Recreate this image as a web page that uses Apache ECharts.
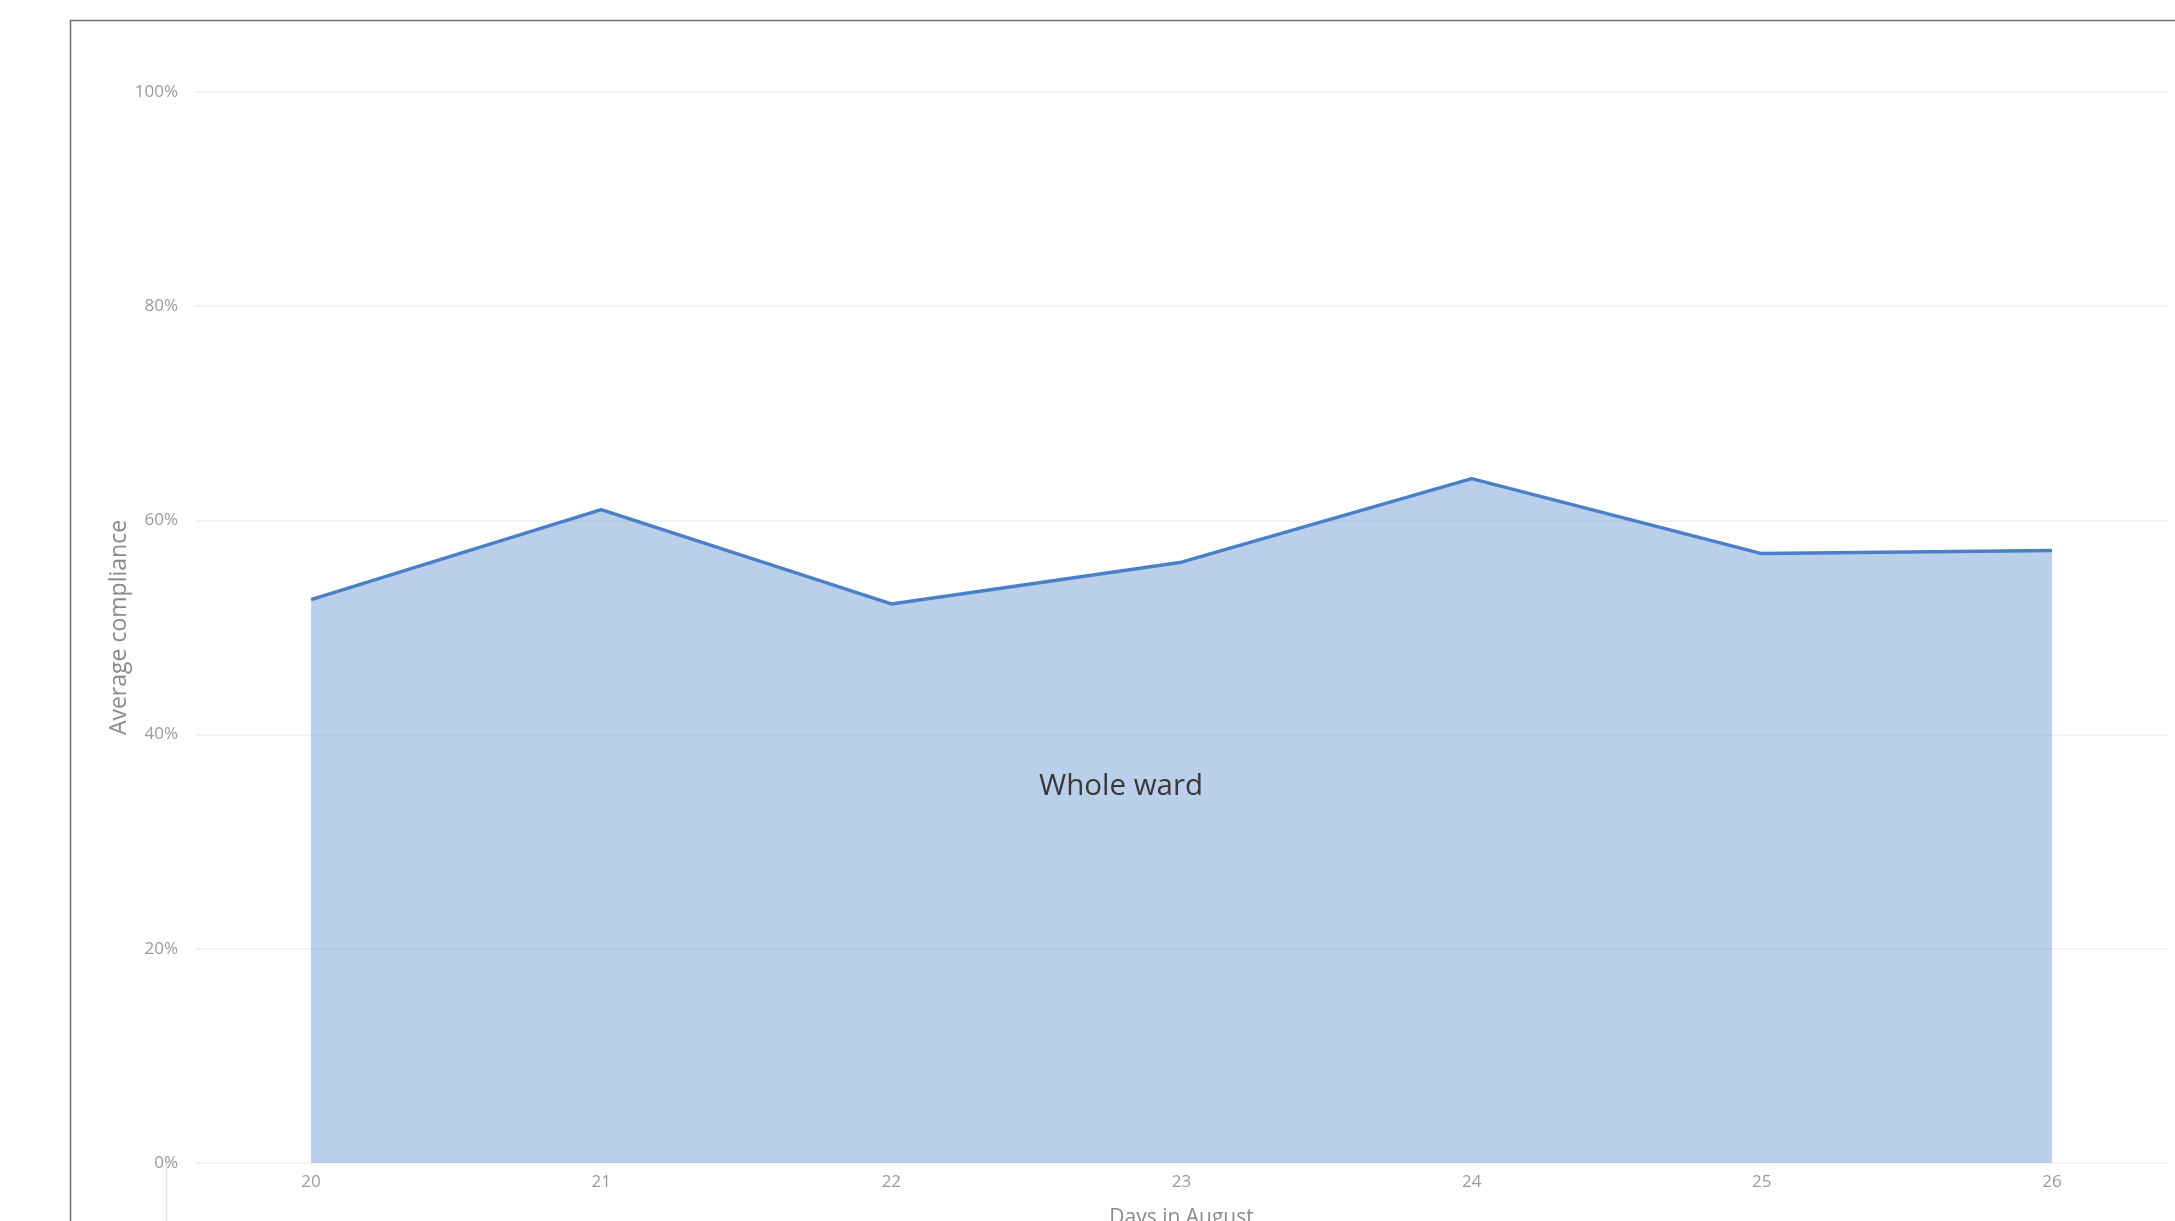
<!DOCTYPE html>
<html>
<head>
<meta charset="utf-8">
<title>Average compliance – Whole ward</title>
<script src="https://cdn.jsdelivr.net/npm/echarts@6/dist/echarts.min.js"></script>
<style>
  html, body { margin: 0; padding: 0; background: #ffffff; overflow: hidden; }
  #chart { width: 2175px; height: 1221px; }
</style>
</head>
<body>
<div id="chart"></div>
<script>
// Days of August shown on the x axis
const days = [20, 21, 22, 23, 24, 25, 26];
// Average compliance for the whole ward, in percent
const wardCompliance = [52.6, 61.0, 52.2, 56.1, 63.9, 56.9, 57.2];
// Y axis tick values, in percent
const yTicks = [0, 20, 40, 60, 80, 100];
const seriesName = 'Whole ward';

const FONT = '"Segoe UI", "Open Sans", "Noto Sans", sans-serif';
const LINE_BLUE = '#4a80c8';

const chart = echarts.init(document.getElementById('chart'), null, { renderer: 'canvas' });

const option = {
  backgroundColor: '#ffffff',
  animation: false,
  grid: {
    left: 195, right: 7, top: 92, bottom: 58,
    containLabel: false,
    outerBoundsMode: 'none'
  },
  xAxis: {
    type: 'value',
    min: 19.6,
    max: 26.4,
    name: 'Days in August',
    nameLocation: 'middle',
    nameGap: 45,
    nameTextStyle: { color: '#8a8a8a', fontSize: 21, fontFamily: FONT },
    axisLine: { show: false },
    axisTick: { show: false },
    splitLine: { show: false },
    axisLabel: {
      customValues: days,
      color: '#9a9a9a',
      fontSize: 17,
      fontFamily: FONT,
      margin: 11,
      formatter: v => String(v)
    }
  },
  yAxis: {
    type: 'value',
    min: yTicks[0],
    max: yTicks[yTicks.length - 1],
    interval: yTicks[1] - yTicks[0],
    name: 'Average compliance',
    nameLocation: 'middle',
    nameGap: 64,
    nameMoveOverlap: false,
    nameTextStyle: { color: '#8a8a8a', fontSize: 23, fontFamily: FONT },
    axisLine: { show: false },
    axisTick: { show: false },
    splitLine: { lineStyle: { color: '#efefef', width: 1.5 } },
    axisLabel: {
      color: '#9a9a9a',
      fontSize: 17,
      fontFamily: FONT,
      margin: 17,
      formatter: '{value}%'
    }
  },
  series: [{
    name: seriesName,
    type: 'line',
    data: days.map((d, i) => [d, wardCompliance[i]]),
    showSymbol: false,
    symbol: 'none',
    lineStyle: { color: LINE_BLUE, width: 3.5 },
    areaStyle: { color: LINE_BLUE, opacity: 0.38, origin: 'start' },
    z: 3
  }],
  graphic: [
    // report frame (left and top edges)
    {
      type: 'polyline',
      shape: { points: [[70.5, 1221], [70.5, 20.5], [2175, 20.5]] },
      style: { stroke: '#6e6e6e', lineWidth: 1.5, fill: null },
      silent: true
    },
    // neighbouring visual's axis line peeking in below
    {
      type: 'line',
      shape: { x1: 166.5, y1: 1161, x2: 166.5, y2: 1221 },
      style: { stroke: '#e8e8e8', lineWidth: 1.5 },
      silent: true
    },
    // series name drawn inside the area
    {
      type: 'text',
      x: 1121,
      y: 787,
      z: 10,
      style: {
        text: seriesName,
        fill: '#383838',
        font: '29.5px ' + FONT,
        textAlign: 'center',
        textVerticalAlign: 'middle'
      },
      silent: true
    }
  ]
};

chart.setOption(option);
</script>
</body>
</html>
